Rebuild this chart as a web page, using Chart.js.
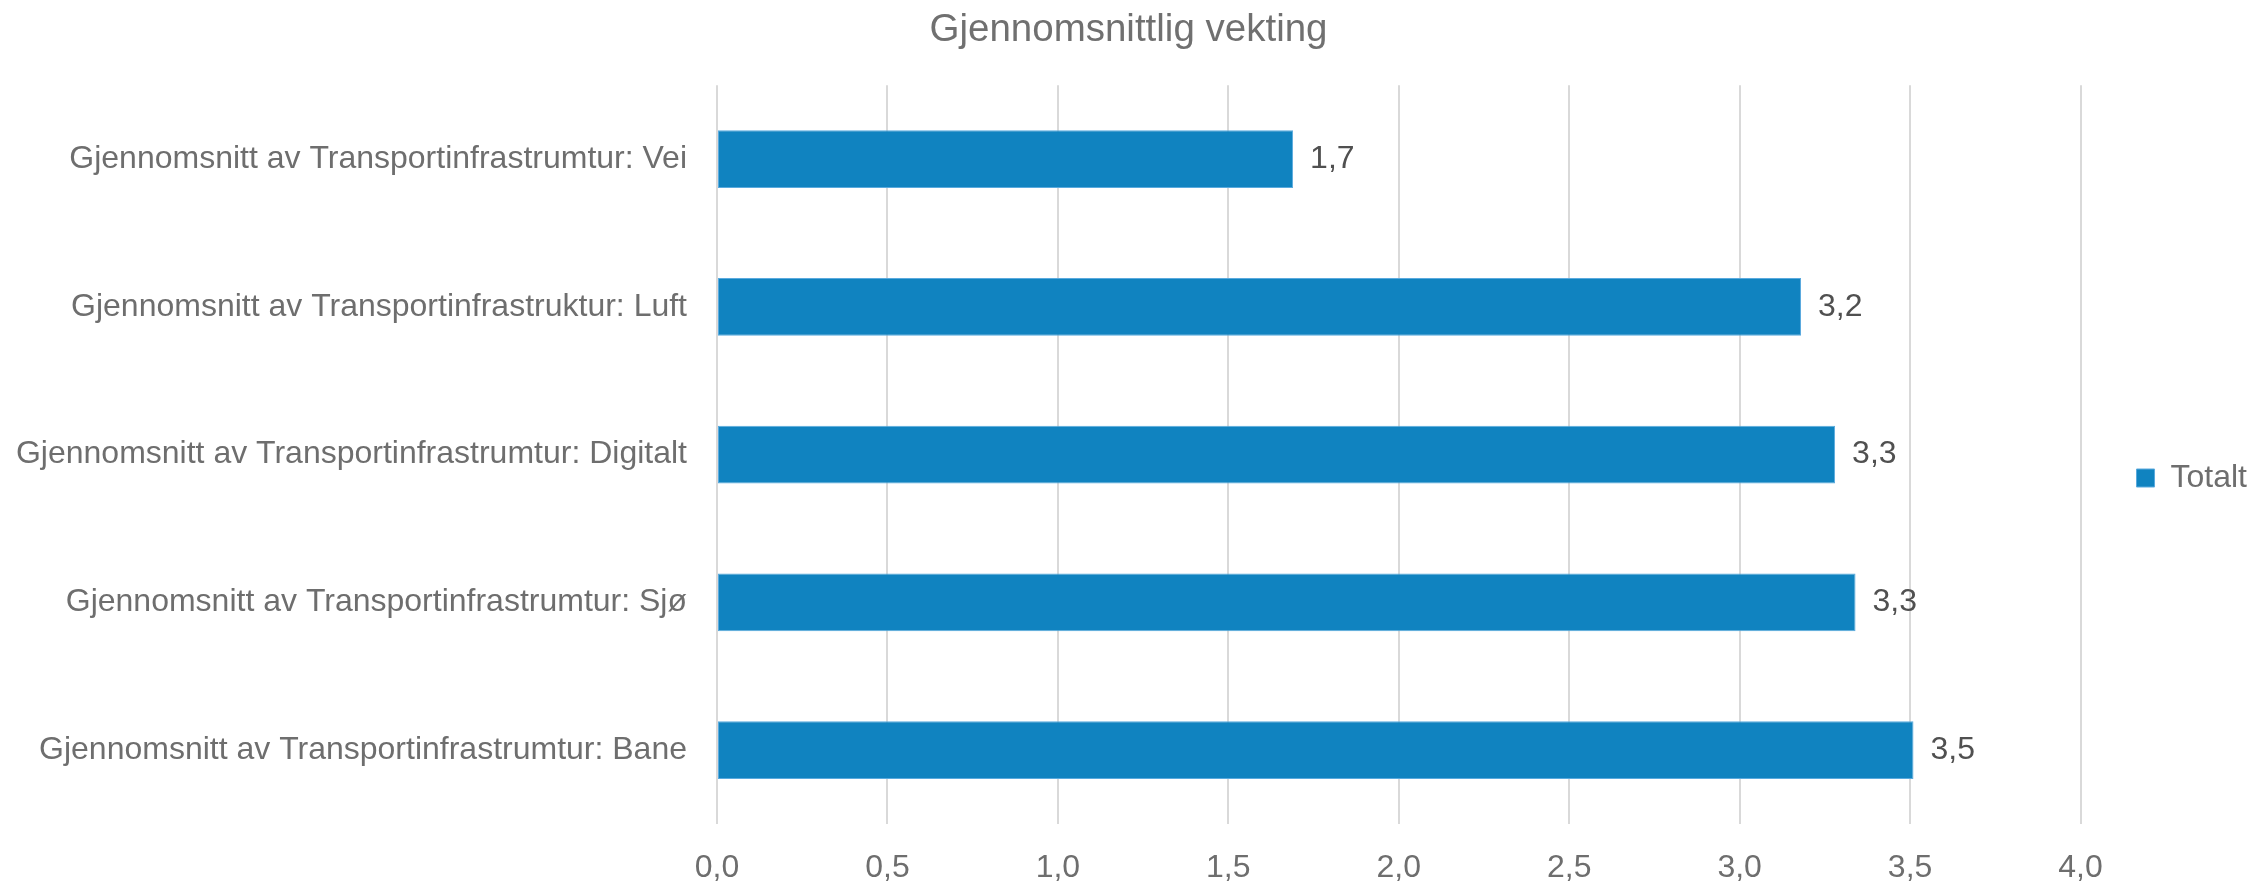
<!DOCTYPE html>
<html>
<head>
<meta charset="utf-8">
<script src="https://cdn.jsdelivr.net/npm/chart.js@4.4.1/dist/chart.umd.min.js"></script>
<style>
  html, body { margin: 0; padding: 0; background: #ffffff; }
  #chart { display: block; }
</style>
</head>
<body>
<canvas id="chart" width="2257" height="882"></canvas>
<script>
const categories = [
    "Gjennomsnitt av Transportinfrastrumtur: Vei",
    "Gjennomsnitt av Transportinfrastruktur: Luft",
    "Gjennomsnitt av Transportinfrastrumtur: Digitalt",
    "Gjennomsnitt av Transportinfrastrumtur: Sjø",
    "Gjennomsnitt av Transportinfrastrumtur: Bane"
];
const totalt = [1.69, 3.18, 3.28, 3.34, 3.51];
const seriesName = "Totalt";
const chartTitle = "Gjennomsnittlig vekting";
const xMin = 0;
const xMax = 4;
const xStep = 0.5;

const fmt = (v, d) => Number(v).toFixed(d).replace(".", ",");

// value labels at the end of each bar
const barLabels = {
    id: "barLabels",
    afterDatasetsDraw(chart) {
        const ctx = chart.ctx;
        const meta = chart.getDatasetMeta(0);
        ctx.save();
        ctx.font = "32px 'Liberation Sans', Arial, sans-serif";
        ctx.fillStyle = "#505050";
        ctx.textAlign = "left";
        ctx.textBaseline = "middle";
        meta.data.forEach((bar, i) => {
            ctx.fillText(fmt(totalt[i], 1), bar.x + 17, bar.y);
        });
        ctx.restore();
    }
};

Chart.defaults.font.family = "'Liberation Sans', Arial, sans-serif";
Chart.defaults.color = "#6e6e6e";

new Chart(document.getElementById("chart").getContext("2d"), {
    type: "bar",
    data: {
        labels: categories,
        datasets: [{
            label: seriesName,
            data: totalt,
            backgroundColor: "#1083c0",
            borderColor: "#5aaade",
            borderWidth: 1,
            borderSkipped: false,
            barPercentage: 0.39,
            categoryPercentage: 1.0
        }]
    },
    options: {
        indexAxis: "y",
        responsive: false,
        animation: false,
        layout: {
            padding: { left: 0, right: 0, top: 0, bottom: 0 }
        },
        scales: {
            x: {
                min: xMin,
                max: xMax,
                grid: { color: "#d9d9d9", lineWidth: 2, drawTicks: false },
                border: { display: false },
                ticks: {
                    stepSize: xStep,
                    padding: 25,
                    font: { size: 32 },
                    color: "#6e6e6e",
                    callback: (v) => fmt(v, 1)
                },
                afterFit(scale) {
                    scale.height = 58;
                }
            },
            y: {
                grid: { display: false, drawTicks: false },
                border: { display: false },
                ticks: {
                    padding: 30,
                    font: { size: 32 },
                    color: "#6e6e6e"
                },
                afterFit(scale) {
                    scale.width = 717;
                }
            }
        },
        plugins: {
            title: {
                display: true,
                text: chartTitle,
                font: { size: 38.5, weight: "normal" },
                color: "#707070",
                padding: { top: 7, bottom: 32 }
            },
            legend: {
                position: "right",
                title: {
                    display: true,
                    text: " ",
                    font: { size: 10 },
                    padding: { top: 31, bottom: 31 }
                },
                labels: {
                    boxWidth: 18,
                    boxHeight: 18,
                    padding: 56,
                    font: { size: 32 },
                    color: "#6e6e6e"
                }
            },
            tooltip: { enabled: false }
        }
    },
    plugins: [barLabels]
});
</script>
</body>
</html>
